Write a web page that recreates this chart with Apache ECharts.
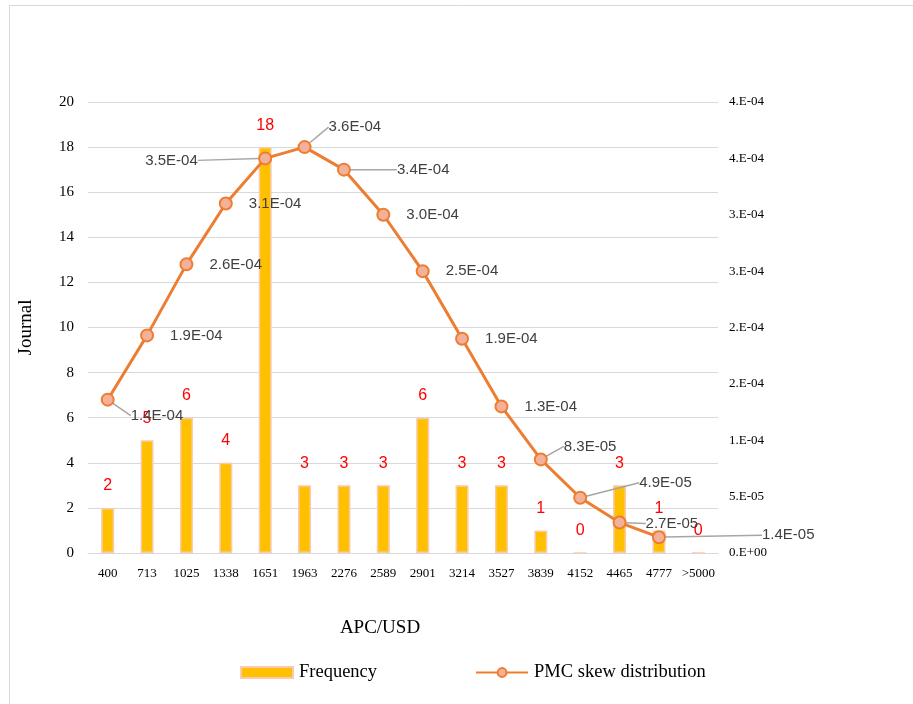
<!DOCTYPE html>
<html>
<head>
<meta charset="utf-8">
<script src="https://cdn.jsdelivr.net/npm/echarts@6/dist/echarts.min.js"></script>
<style>
html,body{margin:0;padding:0;background:#fff;}
#c{width:913px;height:704px;}
</style>
</head>
<body>
<div id="c"></div>
<script>
// ---- data ----
var categories = ['400','713','1025','1338','1651','1963','2276','2589','2901','3214','3527','3839','4152','4465','4777','>5000'];
var frequency = [2,5,6,4,18,3,3,3,6,3,3,1,0,3,1,0];
var pmcSkew = [1.36e-4,1.93e-4,2.56e-4,3.1e-4,3.5e-4,3.6e-4,3.4e-4,3.0e-4,2.5e-4,1.9e-4,1.3e-4,8.3e-5,4.9e-5,2.7e-5,1.4e-5];
var rightTickLabels = ['0.E+00','5.E-05','1.E-04','2.E-04','2.E-04','3.E-04','3.E-04','4.E-04','4.E-04'];

// label placement offsets (style only)
var labelOffsets = {0:[0,16],4:[-143,2],5:[1,-20],6:[30,0],11:[0,-13],12:[36,-15],13:[3,1],14:[80,-2]};
var leaderIdx = {0:1,4:1,5:1,6:1,11:1,12:1,13:1,14:1};

function fmtExp(v){
  var e = Math.floor(Math.log10(v));
  var m = v/Math.pow(10,e);
  var ms = m.toFixed(1);
  if (ms === '10.0'){ ms='1.0'; e+=1; }
  var es = (e<0?'-':'+') + (Math.abs(e)<10?'0':'') + Math.abs(e);
  return ms + 'E' + es;
}

var lineData = pmcSkew.map(function(v,i){
  return {value:v, labelLine:{show: !!leaderIdx[i]}};
});

var chart = echarts.init(document.getElementById('c'), null, {renderer:'canvas'});
var serif = '"Liberation Serif","Times New Roman",serif';
var sans = '"Liberation Sans",Arial,sans-serif';
chart.setOption({
  animation:false,
  backgroundColor:'#fff',
  graphic:[{type:'rect',shape:{x:9.5,y:5.5,width:920,height:720},style:{fill:null,stroke:'#D9D9D9',lineWidth:1},silent:true}],
  grid:{left:88,right:195,top:102,bottom:151,containLabel:false},
  legend:{
    bottom:17,left:235,itemGap:98,itemWidth:52,itemHeight:11,
    textStyle:{fontFamily:serif,fontSize:18.5,color:'#000',padding:[0,0,0,1]},
    data:[{name:'Frequency',icon:'rect'},{name:'PMC skew distribution'}]
  },
  xAxis:{
    type:'category',data:categories,
    name:'APC/USD',nameLocation:'middle',nameGap:66,
    nameTextStyle:{fontFamily:serif,fontSize:19,color:'#000',padding:[0,46,0,0]},
    axisLine:{show:true,lineStyle:{color:'#D9D9D9'}},
    axisTick:{show:false},
    axisLabel:{fontFamily:serif,fontSize:13,color:'#000',margin:14,interval:0}
  },
  yAxis:[{
    type:'value',min:0,max:20,interval:2,
    name:'Journal',nameLocation:'middle',nameGap:52,nameRotate:90,
    nameTextStyle:{fontFamily:serif,fontSize:19,color:'#000'},
    axisLine:{show:false},axisTick:{show:false},
    axisLabel:{fontFamily:serif,fontSize:15,color:'#000',margin:14},
    splitLine:{lineStyle:{color:'#D9D9D9',width:1}}
  },{
    type:'value',min:0,max:4e-4,interval:5e-5,
    axisLine:{show:false},axisTick:{show:false},splitLine:{show:false},
    axisLabel:{fontFamily:serif,fontSize:13,color:'#000',margin:11,
      formatter:function(v){return rightTickLabels[Math.round(v/5e-5)];}}
  }],
  series:[{
    name:'Frequency',type:'bar',yAxisIndex:0,data:frequency,barWidth:13,
    itemStyle:{color:'#FFC000',borderColor:'#F8CBAD',borderWidth:1.5},
    label:{show:true,position:'top',distance:14,color:'#FF0000',fontFamily:sans,fontSize:16}
  },{
    name:'PMC skew distribution',type:'line',yAxisIndex:1,data:lineData,
    symbol:'circle',symbolSize:12,
    lineStyle:{color:'#ED7D31',width:3},
    itemStyle:{color:'#F4B19A',borderColor:'#ED7D31',borderWidth:2},
    z:5,
    label:{show:true,position:'right',distance:16,color:'#404040',fontFamily:sans,fontSize:15,
      formatter:function(p){return fmtExp(p.value);}},
    labelLine:{show:true,lineStyle:{color:'#A6A6A6',width:1.5},smooth:false,length2:0},
    labelLayout:function(p){
      var o = labelOffsets[p.dataIndex];
      return o ? {dx:o[0],dy:o[1]} : {};
    }
  }]
});
</script>
</body>
</html>
